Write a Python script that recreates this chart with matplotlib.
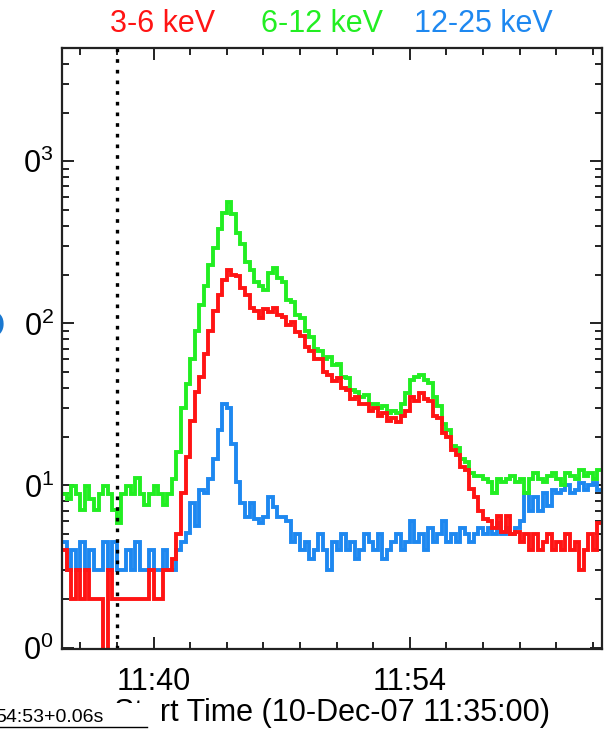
import numpy as np
import matplotlib
matplotlib.use("Agg")
import matplotlib.pyplot as plt
from matplotlib.ticker import FixedLocator, FixedFormatter, LogLocator, NullFormatter
from matplotlib.patches import Rectangle
from matplotlib.lines import Line2D

plt.rcParams['font.family'] = ['Liberation Sans', 'DejaVu Sans']
plt.rcParams['mathtext.fontset'] = 'custom'
plt.rcParams['mathtext.rm'] = 'Liberation Sans'
plt.rcParams['mathtext.it'] = 'Liberation Sans'
plt.rcParams['mathtext.bf'] = 'Liberation Sans:bold'

# ---------------- data ----------------
start_time_label = "10-Dec-07 11:35:00"
bin_minutes = 0.25          # 15 s accumulation bins, minutes after start
band_labels = ["3-6 keV", "6-12 keV", "12-25 keV"]
band_colors = ["#ff1414", "#22ee22", "#1e88f0"]

rate_3_6 = [
    4, 3, 2, 3, 2, 3, 2, 2, 2, 0, 3, 2, 2, 2, 2, 2, 2, 2, 2, 3, 2, 2, 3, 3,
    3.5, 5, 9, 15, 25, 38, 47, 65, 90, 120, 150, 185, 215, 200, 195, 165, 150,
    125, 120, 108, 122, 118, 125, 112, 110, 98, 102, 88, 84, 72, 68, 60, 60,
    50, 48, 44, 46, 40, 39, 34, 35, 32, 32, 29, 30, 27, 28, 25, 26, 24.5, 27,
    29, 35, 33, 37, 34, 33, 27, 26, 21, 20, 16.5, 15.5, 13, 12.5, 9.5, 8.5,
    7, 6.2, 6, 5.5, 6.5, 5.2, 6.5, 5, 5.2, 4.5, 5, 4, 5, 4, 4.5, 5, 4, 4.5,
    4, 5, 4, 4.5, 3, 4, 5, 4, 5.9,
]
rate_6_12 = [
    8.8, 8.2, 9.9, 8.8, 7.1, 9.9, 8.2, 7.1, 8.8, 9.9, 8.8, 7.1, 5.9, 8.8, 9.9,
    8.8, 11.2, 8.8, 7.6, 8.8, 9.9, 8.8, 7.6, 8.8,
    11, 16, 30, 42, 60, 90, 130, 170, 230, 290, 380, 480, 560, 470, 360, 310,
    240, 215, 180, 170, 160, 205, 220, 190, 180, 140, 135, 112, 108, 90, 82,
    70, 68, 60, 62, 55, 56, 47, 46, 39, 38, 35, 36, 32, 32, 30, 31, 28, 29, 28,
    32, 37, 45, 47, 48, 45, 43, 35, 31, 24, 22, 17.5, 17, 14.5, 14, 12, 11.5,
    11.5, 11, 10.5, 9, 11, 10.5, 11, 11.5, 10.5, 11, 9, 11, 12, 11, 10.5, 11.5,
    12, 11, 10, 12, 11.5, 11, 12.5, 11.5, 12, 11, 12.5,
]
rate_12_25 = [
    4.5, 3, 4, 3, 4.5, 3, 4, 3, 3, 4.5, 3, 4.5, 3, 3, 4, 3, 4.5, 3, 3, 4, 3, 3,
    4, 3,
    3, 4, 4.5, 5.1, 7.8, 5.6, 9.4, 9, 11, 14.5, 22, 32, 30, 18, 10.5, 7.8, 6.4,
    7.8, 6.2, 5.9, 6.4, 8.5, 7.4, 6.4, 6.4, 6, 4.5,
    5, 4, 4.5, 3.5, 4, 5, 4, 3, 4.5, 4, 5, 4, 4.5, 3.5, 4, 5, 4.5, 4, 5, 3.5,
    4, 4.5, 5, 4, 4.5, 6, 4.5, 5, 4, 5.5, 4.5, 5, 6, 4.5, 5, 4.5, 5.5, 5, 4.5,
    5, 5.5,
    5, 5.5, 5, 5.9, 5, 5.5, 5, 5.5, 6, 9, 7, 8.5, 7, 9, 7.5, 9.4, 9, 9.4, 10,
    9, 9.4, 10.4, 9.4, 10, 10.4, 9.4,
]
xtick_major_minutes = [5, 19]
xtick_major_labels = ["11:40", "11:54"]
xtick_minor_minutes = [1, 3, 7, 9, 11, 13, 15, 17, 21, 23, 25, 27, 29]
ytick_exponents = [0, 1, 2, 3]
marker_minute = 3.0
overlay_text = "54:53+0.06s"

# ---------------- figure ----------------
W, H = 610, 729
fig = plt.figure(figsize=(W / 100, H / 100), dpi=100)
ax = fig.add_axes([62 / W, 1 - 649 / H, 540 / W, 601 / H])

series = [rate_12_25, rate_6_12, rate_3_6]
colors = [band_colors[2], band_colors[1], band_colors[0]]
for vals, col in zip(series, colors):
    v = np.asarray(vals, dtype=float)
    edges = np.arange(len(v) + 1) * bin_minutes
    ax.step(edges, np.append(v, v[-1]), where='post', color=col, lw=2.8,
            solid_joinstyle='miter')

ax.set_yscale('log', nonpositive='clip')
ax.set_ylim(0.98, 5000)
ax.set_xlim(0, len(rate_3_6) * bin_minutes)

ax.axvline(marker_minute, color='black', lw=2.4, linestyle=(0, (1.1, 2.1)),
           dash_capstyle='butt')

# ticks
ax.xaxis.set_major_locator(FixedLocator(xtick_major_minutes))
ax.xaxis.set_major_formatter(FixedFormatter(xtick_major_labels))
ax.xaxis.set_minor_locator(FixedLocator(xtick_minor_minutes))
ax.yaxis.set_major_locator(FixedLocator([10.0 ** e for e in ytick_exponents]))
ax.yaxis.set_major_formatter(FixedFormatter(
    [r"$\mathregular{0^{%d}}$" % e for e in ytick_exponents]))
ax.yaxis.set_minor_locator(LogLocator(base=10, subs=np.arange(2, 10)))
ax.yaxis.set_minor_formatter(NullFormatter())

ax.tick_params(which='both', direction='in', top=True, right=True,
               width=1.4, color='#222222')
ax.tick_params(which='major', length=8.5)
ax.tick_params(which='minor', length=5)
ax.tick_params(axis='x', which='major', labelsize=22, pad=13)
ax.tick_params(axis='y', which='major', labelsize=22, pad=6)
for s in ax.spines.values():
    s.set_linewidth(1.6)
    s.set_color('#222222')

ax.set_xlabel("Start Time (%s)" % start_time_label, fontsize=22, labelpad=1)

# band labels across top
for lab, col, xc in zip(band_labels, band_colors, [163, 322, 483]):
    fig.text(xc / W, 1 - 24 / H, lab, color=col, fontsize=22,
             ha='center', va='center')

# cut-off blue glyph at left edge
fig.text(5 / W, 1 - 327 / H, "O", color='#1a78d0', fontsize=26,
         fontweight='bold', ha='right', va='center')

# white overlay box with time stamp
fig.add_artist(Rectangle((0, 0), 160 / W, 26 / H, transform=fig.transFigure,
                         facecolor='white', edgecolor='none', zorder=10))
fig.text(-5 / W, 1 - 718 / H, overlay_text, fontsize=14, color='black',
         ha='left', va='center', zorder=11)
fig.add_artist(Line2D([0, 147 / W], [1 - 727 / H, 1 - 727 / H],
                      transform=fig.transFigure, color='black', lw=1,
                      zorder=11))

fig.savefig("out.png", dpi=100)
